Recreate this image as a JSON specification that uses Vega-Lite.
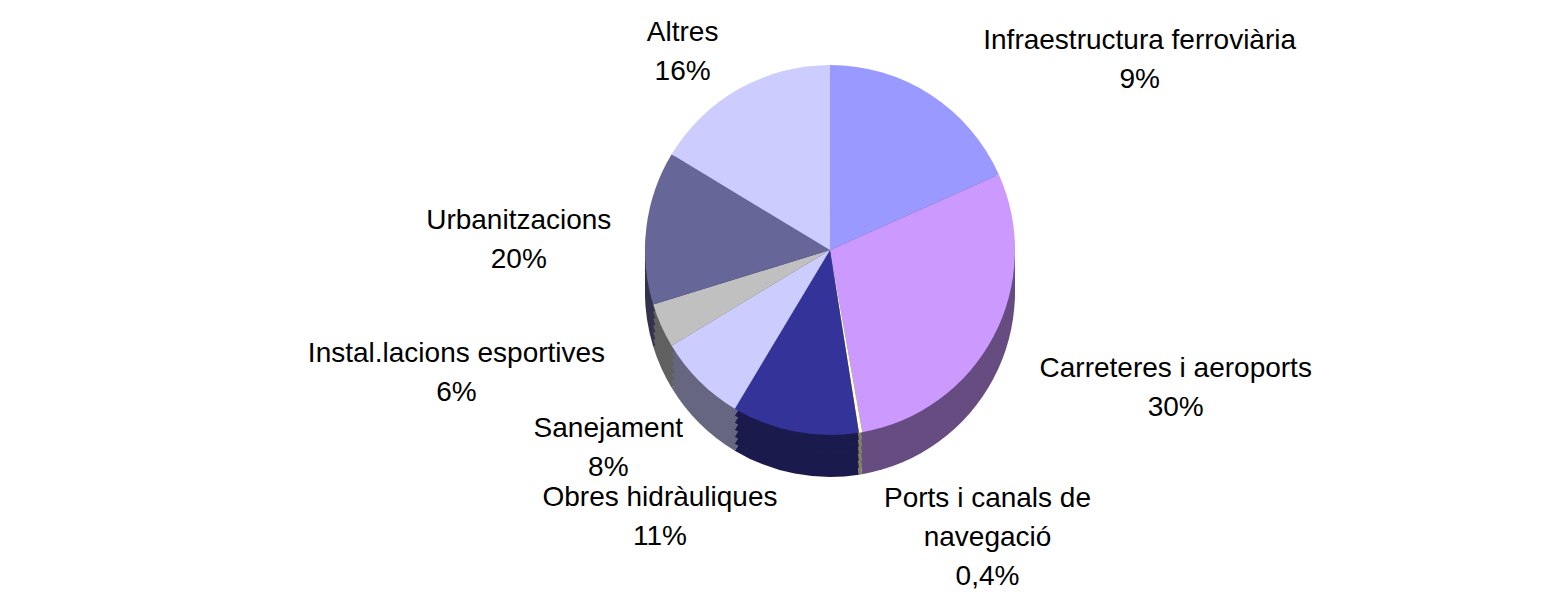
{
  "$schema": "https://vega.github.io/schema/vega-lite/v6.json",
  "width": 1566,
  "height": 605,
  "autosize": {"type": "fit", "contains": "padding"},
  "padding": 0,
  "background": "white",
  "config": {"view": {"stroke": null}},
  "data": {
    "values": [
      {"rank": 1, "cat": "Infraestructura ferroviària", "share": 18.3, "label": ["Infraestructura ferroviària", "9%"]},
      {"rank": 2, "cat": "Carreteres i aeroports", "share": 28.9, "label": ["Carreteres i aeroports", "30%"]},
      {"rank": 3, "cat": "Ports i canals de navegació", "share": 0.3, "label": ["Ports i canals de", "navegació", "0,4%"]},
      {"rank": 4, "cat": "Obres hidràuliques", "share": 11.1, "label": ["Obres hidràuliques", "11%"]},
      {"rank": 5, "cat": "Sanejament", "share": 7.75, "label": ["Sanejament", "8%"]},
      {"rank": 6, "cat": "Instal.lacions esportives", "share": 3.9, "label": ["Instal.lacions esportives", "6%"]},
      {"rank": 7, "cat": "Urbanitzacions", "share": 13.4, "label": ["Urbanitzacions", "20%"]},
      {"rank": 8, "cat": "Altres", "share": 16.35, "label": ["Altres", "16%"]}
    ]
  },
  "encoding": {
    "theta": {"field": "share", "type": "quantitative", "stack": true},
    "order": {"field": "rank", "type": "quantitative"}
  },
  "layer": [
    {
      "mark": {"type": "arc", "radius": 185, "x": {"expr": "width*0.53"}, "y": {"expr": "250+42"}},
      "encoding": {"color": {"field": "cat", "type": "nominal", "legend": null,
        "scale": {"domain": ["Infraestructura ferroviària", "Carreteres i aeroports", "Ports i canals de navegació", "Obres hidràuliques", "Sanejament", "Instal.lacions esportives", "Urbanitzacions", "Altres"],
                  "range": ["#4C4C80", "#664C80", "#808066", "#1A1A4D", "#666680", "#606060", "#33334D", "#666680"]}}}
    },
    {
      "mark": {"type": "arc", "radius": 185, "x": {"expr": "width*0.53"}, "y": {"expr": "250+35"}},
      "encoding": {"color": {"field": "cat", "type": "nominal", "legend": null,
        "scale": {"domain": ["Infraestructura ferroviària", "Carreteres i aeroports", "Ports i canals de navegació", "Obres hidràuliques", "Sanejament", "Instal.lacions esportives", "Urbanitzacions", "Altres"],
                  "range": ["#4C4C80", "#664C80", "#808066", "#1A1A4D", "#666680", "#606060", "#33334D", "#666680"]}}}
    },
    {
      "mark": {"type": "arc", "radius": 185, "x": {"expr": "width*0.53"}, "y": {"expr": "250+28"}},
      "encoding": {"color": {"field": "cat", "type": "nominal", "legend": null,
        "scale": {"domain": ["Infraestructura ferroviària", "Carreteres i aeroports", "Ports i canals de navegació", "Obres hidràuliques", "Sanejament", "Instal.lacions esportives", "Urbanitzacions", "Altres"],
                  "range": ["#4C4C80", "#664C80", "#808066", "#1A1A4D", "#666680", "#606060", "#33334D", "#666680"]}}}
    },
    {
      "mark": {"type": "arc", "radius": 185, "x": {"expr": "width*0.53"}, "y": {"expr": "250+21"}},
      "encoding": {"color": {"field": "cat", "type": "nominal", "legend": null,
        "scale": {"domain": ["Infraestructura ferroviària", "Carreteres i aeroports", "Ports i canals de navegació", "Obres hidràuliques", "Sanejament", "Instal.lacions esportives", "Urbanitzacions", "Altres"],
                  "range": ["#4C4C80", "#664C80", "#808066", "#1A1A4D", "#666680", "#606060", "#33334D", "#666680"]}}}
    },
    {
      "mark": {"type": "arc", "radius": 185, "x": {"expr": "width*0.53"}, "y": {"expr": "250+14"}},
      "encoding": {"color": {"field": "cat", "type": "nominal", "legend": null,
        "scale": {"domain": ["Infraestructura ferroviària", "Carreteres i aeroports", "Ports i canals de navegació", "Obres hidràuliques", "Sanejament", "Instal.lacions esportives", "Urbanitzacions", "Altres"],
                  "range": ["#4C4C80", "#664C80", "#808066", "#1A1A4D", "#666680", "#606060", "#33334D", "#666680"]}}}
    },
    {
      "mark": {"type": "arc", "radius": 185, "x": {"expr": "width*0.53"}, "y": {"expr": "250+7"}},
      "encoding": {"color": {"field": "cat", "type": "nominal", "legend": null,
        "scale": {"domain": ["Infraestructura ferroviària", "Carreteres i aeroports", "Ports i canals de navegació", "Obres hidràuliques", "Sanejament", "Instal.lacions esportives", "Urbanitzacions", "Altres"],
                  "range": ["#4C4C80", "#664C80", "#808066", "#1A1A4D", "#666680", "#606060", "#33334D", "#666680"]}}}
    },
    {
      "mark": {"type": "arc", "radius": 185, "x": {"expr": "width*0.53"}, "y": {"expr": "250"}},
      "encoding": {"color": {"field": "cat", "type": "nominal", "legend": null,
        "scale": {"domain": ["Infraestructura ferroviària", "Carreteres i aeroports", "Ports i canals de navegació", "Obres hidràuliques", "Sanejament", "Instal.lacions esportives", "Urbanitzacions", "Altres"],
                  "range": ["#9999FF", "#CC99FF", "#FFFFCC", "#333399", "#CCCCFF", "#C0C0C0", "#666699", "#CCCCFF"]}}}
    },
    {
      "mark": {"type": "text", "radius": 212, "x": {"expr": "width*0.53"}, "y": {"expr": "250+21"},
        "font": "Liberation Sans", "fontSize": 28, "lineHeight": 39, "color": "#000000", "baseline": "middle", "align": "center",
        "dx": {"expr": "(datum.share_start + datum.share_end < 100 ? 1 : -1) * 7.2 * max(length(datum.label[0]), length(datum.label[1]))"},
        "dy": {"expr": "-cos(PI*(datum.share_start + datum.share_end)/100) * 19.5 * length(datum.label) - 19.5 * (length(datum.label) - 1)"}},
      "encoding": {"text": {"field": "label", "type": "nominal"}}
    }
  ],
  "resolve": {"scale": {"color": "independent"}}
}
